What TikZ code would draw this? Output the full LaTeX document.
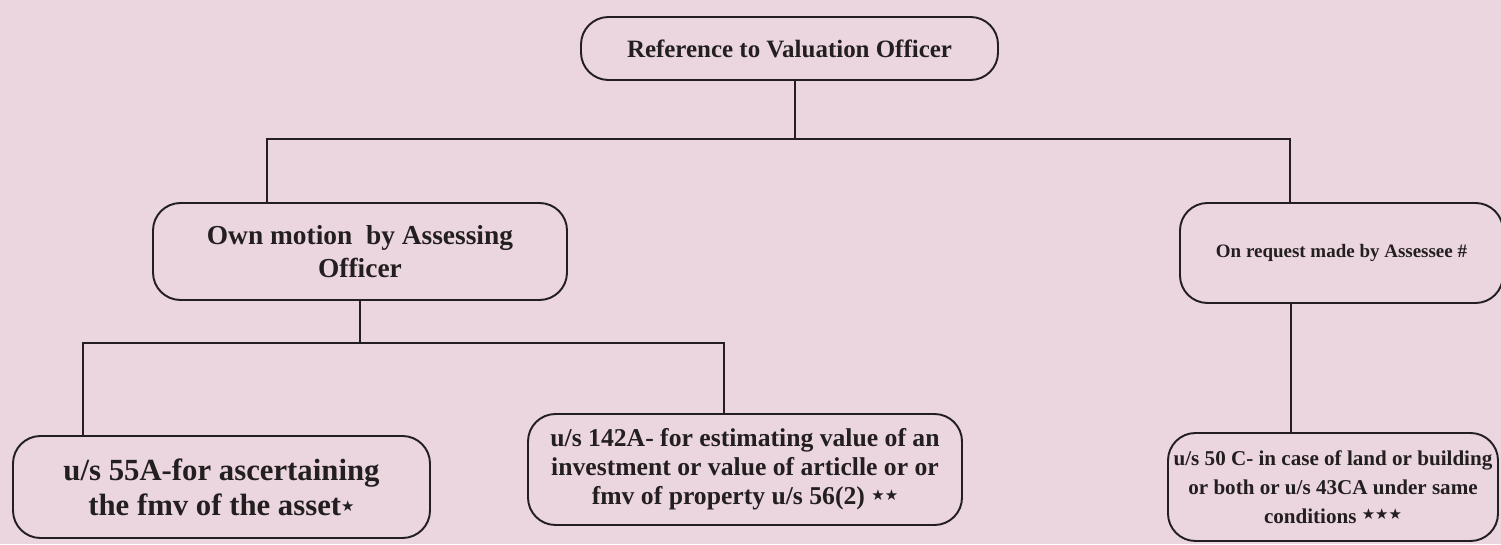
\documentclass[tikz,border=0pt]{standalone}
\usepackage{fontspec}
\setmainfont{Liberation Serif}
\newfontfamily\symfont{DejaVu Sans}
\usepackage{tikz}
\definecolor{bgpink}{RGB}{235,214,223}
\definecolor{ink}{RGB}{35,31,32}
\newcommand{\sstar}{{\symfont\fontsize{8.5}{8.5}\selectfont\raisebox{.5ex}{★}}}
\tikzset{
  box/.style={draw=ink, line width=1.1pt, rounded corners=0.55cm, align=center,
    text=ink, font=\bfseries, inner sep=0pt},
  link/.style={draw=ink, line width=1.1pt}
}

\begin{document}
\begin{tikzpicture}
    % Fondo
    \fill[bgpink] (0,0) rectangle (30.02,10.88);
    \useasboundingbox (0,0) rectangle (30.02,10.88);

    % Cajas
    \node[box, minimum width=8.34cm, minimum height=1.26cm, font=\bfseries\fontsize{14.2}{16}\selectfont]
      (ref) at (15.79,9.91) {Reference to Valuation Officer};
    \node[box, minimum width=8.28cm, minimum height=1.94cm, font=\bfseries\fontsize{15.6}{19}\selectfont]
      (own) at (7.2,5.85) {Own motion\ \ by Assessing\\Officer};
    \node[box, minimum width=6.46cm, minimum height=2.0cm, font=\bfseries\fontsize{10.8}{13}\selectfont]
      (req) at (26.83,5.82) {On request made by Assessee \#};
    \node[box, minimum width=8.34cm, minimum height=2.04cm, font=\bfseries\fontsize{17.5}{20}\selectfont]
      (fmv) at (4.43,1.14) {u/s 55A-for ascertaining\\the fmv of the asset\sstar};
    \node[box, minimum width=8.68cm, minimum height=2.22cm, font=\bfseries\fontsize{14.6}{16.6}\selectfont]
      (inv) at (14.9,1.49) {u/s 142A- for estimating value of an\\investment or value of articlle or or\\fmv of property u/s 56(2) \sstar\sstar};
    \node[box, minimum width=6.6cm, minimum height=2.16cm, font=\bfseries\fontsize{12}{16.5}\selectfont]
      (land) at (26.66,1.14) {u/s 50 C- in case of land or building\\or both or u/s 43CA under same\\conditions \sstar\sstar\sstar};

    % Conectores
    \draw[link] ([xshift=0.11cm]ref.south) -- ++(0,-1.16) coordinate (j1);
    \draw[link] (j1) -| ([xshift=-1.86cm]own.north);
    \draw[link] (j1) -| ([xshift=-1.03cm]req.north);
    \draw[link] (own.south) -- ++(0,-0.84) coordinate (j2);
    \draw[link] (j2) -| ([xshift=-2.77cm]fmv.north);
    \draw[link] (j2) -| ([xshift=-0.42cm]inv.north);
    \draw[link] ([xshift=-1.01cm]req.south) -- ([xshift=-1.01cm]req.south |- land.north);
  \end{tikzpicture}
\end{document}
